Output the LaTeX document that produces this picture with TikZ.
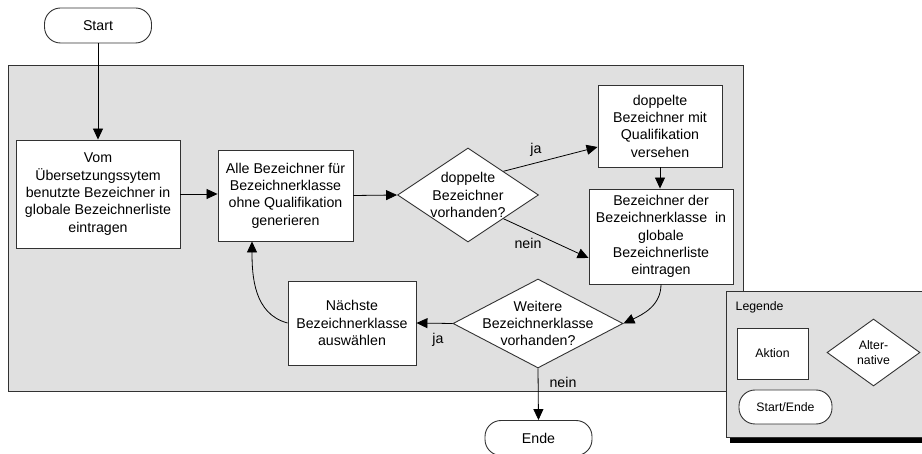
\documentclass[tikz,border=0pt]{standalone}
\usepackage{fontspec}
\setmainfont{Liberation Sans}
\usetikzlibrary{shapes.geometric,arrows.meta,calc}
\definecolor{panel}{RGB}{224,224,224}
\definecolor{edge}{RGB}{50,50,50}
\begin{document}
\begin{tikzpicture}[x=1pt,y=-1pt,
  every node/.style={font=\fontsize{14.2pt}{17.3pt}\selectfont},
  stepbox/.style={draw=edge, fill=white, line width=0.9pt, inner sep=2pt, align=center},
  choice/.style={diamond, draw=edge, fill=white, line width=0.9pt, inner sep=0pt},
  terminal/.style={draw=edge, fill=white, line width=0.9pt, rounded corners=16pt, align=center,
    minimum width=107pt, minimum height=35pt},
  txt/.style={align=center, inner sep=0pt},
  legfont/.style={font=\fontsize{12.3pt}{15pt}\selectfont},
  arr/.style={draw=black, line width=0.8pt, -{Triangle[length=11pt,width=10pt]}},
  lbl/.style={inner sep=0pt}
]
\useasboundingbox (0,0) rectangle (922,454);
\clip (0,0) rectangle (922,454);

% process area
\draw[draw=edge, fill=panel, line width=0.9pt] (8,65) rectangle (743,391.5);

% start / end
\node[terminal] (st) at (98,25.5) {Start};
\node[terminal] (en) at (538.5,438) {Ende};

% actions
\node[stepbox, minimum width=164pt, minimum height=108pt] (b1) at (98,194)
  {Vom\\Übersetzungssytem\\benutzte Bezeichner in\\globale Bezeichnerliste\\eintragen};
\node[stepbox, minimum width=135pt, minimum height=91pt] (b2) at (285.5,195.5)
  {Alle Bezeichner für\\Bezeichnerklasse\\ohne Qualifikation\\generieren};
\node[stepbox, minimum width=124pt, minimum height=82pt] (b3) at (660,126)
  {doppelte\\Bezeichner mit\\Qualifikation\\versehen};
\node[stepbox, minimum width=144pt, minimum height=95pt] (b4) at (661,236.5)
  {Bezeichner der\\Bezeichnerklasse\ \ in\\globale\\Bezeichnerliste\\eintragen};
\node[stepbox, minimum width=128pt, minimum height=84pt] (b5) at (352,323)
  {Nächste\\Bezeichnerklasse\\auswählen};

% decisions
\node[choice, minimum width=141pt, minimum height=94pt] (d1) at (468,195) {};
\node[txt] (d1t) at (d1) {doppelte\\Bezeichner\\vorhanden?};
\node[choice, minimum width=170pt, minimum height=89pt] (d2) at (538,323.5) {};
\node[txt] (d2t) at (d2) {Weitere\\Bezeichnerklasse\\vorhanden?};

% connectors
\draw[arr] (st) -- (b1);
\draw[arr] (b1.east) -- (b1.east -| b2.west);
\draw[arr] (b2.east) -- (d1.west);
\draw[arr] (d1.north east) -- ([yshift=-21pt]b3.west);
\draw[arr] (d1.south east) -- ([yshift=-21.5pt]b4.west);
\draw[arr] (b3.south) -- (b3.south |- b4.north);
\draw[arr] (b4.south) to[out=-90, in=25] (d2.east);
\draw[arr] (d2.west) -- (b5.east);
\draw[arr] (b5.west) to[out=165, in=-90] ([xshift=-33.5pt]b2.south);
\draw[arr] (d2.south) -- (en.north);

% branch labels
\node[lbl] (ja1) at (536,150) {ja};
\node[lbl] (nein1) at (528,243) {nein};
\node[lbl] (ja2) at (438,340) {ja};
\node[lbl] (nein2) at (563,382) {nein};

% legend
\fill[black] (730,297) rectangle (940,443.5);
\node[draw=edge, fill=panel, line width=0.9pt, anchor=north west, inner sep=0pt,
  minimum width=214pt, minimum height=146pt] (leg) at (726,291) {};
\node[legfont, anchor=west, inner sep=0pt] (legt) at (735.5,307) {Legende};
\node[stepbox, legfont, minimum width=71pt, minimum height=51pt] (lga) at (772.5,353.5) {Aktion};
\node[choice, minimum width=93pt, minimum height=67pt] (lgd) at (873.5,352.5) {};
\node[txt, legfont] (lgdt) at (lgd) {Alter-\\native};
\node[terminal, legfont, minimum width=93pt, minimum height=34pt] (lgs) at (785.5,407) {Start/Ende};
\end{tikzpicture}
\end{document}
